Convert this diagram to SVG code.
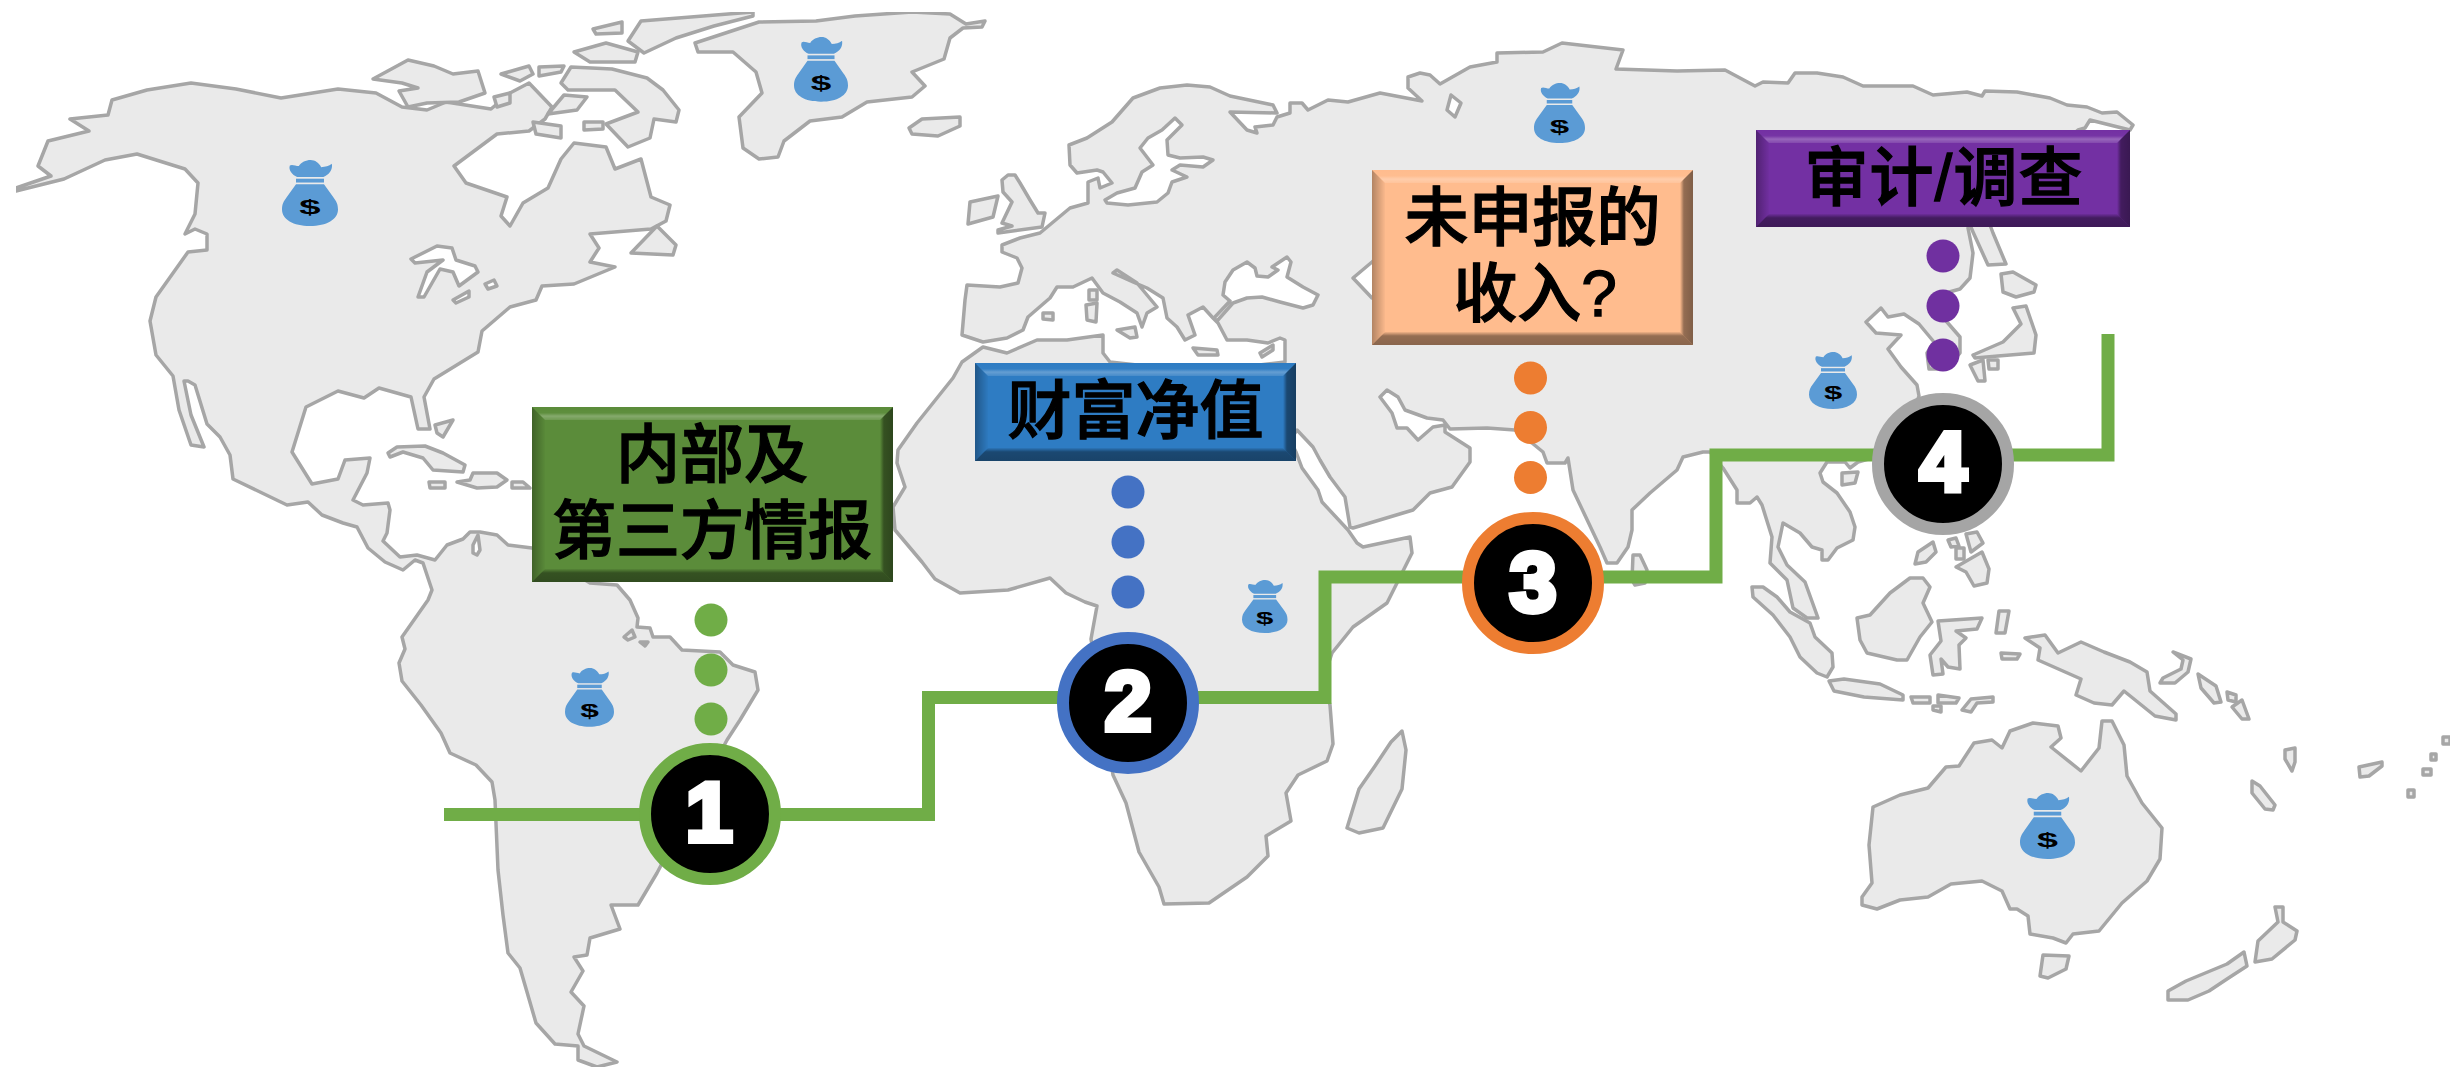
<svg xmlns="http://www.w3.org/2000/svg" width="2450" height="1068" viewBox="0 0 2450 1068">
<style>
.land{fill:#EAEAEA;stroke:#A6A6A6;stroke-width:3.5;stroke-linejoin:round}
.lake{fill:#FFFFFF;stroke:#A6A6A6;stroke-width:3.5;stroke-linejoin:round}
.route{fill:none;stroke:#70AD47;stroke-width:13;stroke-linejoin:miter}
.lbl{font-family:"Liberation Sans","Noto Sans CJK SC",sans-serif;font-size:64px;font-weight:500;fill:#000;stroke:#000;stroke-width:1.3;text-anchor:middle}
.num{font-family:"Liberation Sans",sans-serif;font-size:84px;font-weight:700;fill:#fff;stroke:#fff;stroke-width:6;stroke-linejoin:miter;text-anchor:middle}
.dollar{font-family:"Liberation Sans",sans-serif;font-size:38px;font-weight:700;fill:#000;text-anchor:middle}
.disc{fill:#000;stroke-width:12}
.bagc{fill:#5B9BD5}
.t{fill:url(#gT)}.l{fill:url(#gL)}.r{fill:url(#gR)}.b{fill:url(#gB)}
</style>
<defs>
<filter id="soft" x="0" y="0" width="1" height="1"><feGaussianBlur stdDeviation="0.6"/></filter>
<linearGradient id="gT" x1="0" y1="0" x2="0" y2="1"><stop offset="0" stop-color="#fff" stop-opacity="0"/><stop offset=".45" stop-color="#fff" stop-opacity=".02"/><stop offset=".7" stop-color="#fff" stop-opacity=".26"/><stop offset="1" stop-color="#fff" stop-opacity=".12"/></linearGradient>
<linearGradient id="gL" x1="0" y1="0" x2="1" y2="0"><stop offset="0" stop-color="#000" stop-opacity=".3"/><stop offset="1" stop-color="#000" stop-opacity=".02"/></linearGradient>
<linearGradient id="gR" x1="1" y1="0" x2="0" y2="0"><stop offset="0" stop-color="#000" stop-opacity=".5"/><stop offset=".7" stop-color="#000" stop-opacity=".42"/><stop offset="1" stop-color="#000" stop-opacity="0"/></linearGradient>
<linearGradient id="gB" x1="0" y1="1" x2="0" y2="0"><stop offset="0" stop-color="#000" stop-opacity=".46"/><stop offset=".7" stop-color="#000" stop-opacity=".42"/><stop offset="1" stop-color="#000" stop-opacity=".05"/></linearGradient>
<g id="bag">
<path class="bagc" d="M14 10C18 7 24 11 30 11C34 4 43 0 51 0C59 0 66 5 70 13C77 13 84 11 89 7C91 18 84 27 74 31L27 31C18 27 11 18 14 10Z"/>
<path class="bagc" d="M25 34H75V41H25Z"/>
<path class="bagc" d="M25 44H75L92 68C97 75 100 80 100 90C100 108 80 120 50 120C20 120 0 108 0 90C0 80 3 75 8 68Z"/>
</g>
</defs>
<rect width="2450" height="1068" fill="#fff"/>
<g id="map" filter="url(#soft)">
<polygon class="land" points="16,188 51,176 38,166 48,141 89,131 70,119 108,115 112,100 147,90 191,83 236,89 281,98 338,89 376,93 402,107 427,110 446,102 491,109 510,93 529,83 552,107 545,119 529,131 497,134 454,166 466,183 507,197 501,216 510,226 523,203 548,188 561,159 574,143 606,147 615,169 641,159 651,197 670,205 666,221 651,229 590,234 599,248 590,262 615,267 574,284 542,286 536,300 510,307 482,331 478,352 434,379 424,397 430,429 418,429 411,397 379,388 364,398 338,391 306,407 292,452 312,484 338,479 345,460 370,458 367,473 353,500 363,505 388,503 390,510 387,533 383,541 400,557 417,555 435,560 447,545 463,539 470,532 480,532 497,535 508,545 532,548 590,583 617,585 630,600 638,618 637,627 650,628 653,637 670,637 682,650 720,652 733,665 755,672 758,690 740,720 727,740 690,810 657,873 638,905 611,905 620,929 590,938 587,955 574,957 583,971 571,992 584,1006 578,1034 584,1046 617,1062 597,1067 578,1060 578,1046 555,1044 536,1023 527,992 520,968 508,953 503,915 498,870 495,800 492,782 476,765 450,753 441,733 421,705 402,681 399,663 405,649 402,637 428,600 432,590 423,563 415,560 403,570 385,562 368,548 357,527 343,523 322,515 308,502 287,505 233,479 230,455 220,437 207,424 195,385 188,381 184,381 191,415 204,447 191,445 179,410 173,376 156,355 150,321 156,297 188,252 207,250 207,234 195,229 185,234 195,214 198,183 185,169 137,154 105,160 64,179 16,191"/>
<polygon class="lake" points="411,259 437,246 452,248 456,260 475,266 478,272 459,286 453,272 440,269 424,297 418,297 427,272 443,260 415,263"/>
<polygon class="lake" points="453,300 469,291 469,297 456,303"/>
<polygon class="lake" points="485,284 494,280 497,286 488,289"/>
<polygon class="lake" points="473,545 478,535 480,550 477,555 473,553"/>
<polygon class="land" points="373,79 408,60 434,66 453,74 478,71 485,93 459,102 427,103 408,107 399,91 418,88 402,83"/>
<polygon class="land" points="501,74 529,66 533,74 520,81"/>
<polygon class="land" points="539,67 564,66 561,72 539,76"/>
<polygon class="land" points="494,97 510,93 510,103 497,107"/>
<polygon class="land" points="561,83 571,67 612,69 647,78 663,90 679,110 676,122 654,119 650,138 628,147 606,124 638,112 615,90 568,90"/>
<polygon class="land" points="584,122 603,122 603,129 584,130"/>
<polygon class="land" points="548,114 577,110 587,97 564,95"/>
<polygon class="land" points="533,122 561,126 561,138 536,134"/>
<polygon class="land" points="641,21 753,12 753,16 714,26 676,38 644,53 628,41"/>
<polygon class="land" points="593,29 622,22 622,33 596,34"/>
<polygon class="land" points="574,52 606,43 638,52 635,62 590,62"/>
<polygon class="land" points="657,226 676,245 673,255 631,253"/>
<polygon class="land" points="388,453 397,447 425,446 443,453 465,465 463,472 433,470 423,458 403,452 390,457"/>
<polygon class="land" points="457,482 470,480 473,473 497,473 507,480 497,487 477,488"/>
<polygon class="land" points="429,482 445,482 445,488 430,488"/>
<polygon class="land" points="512,482 523,482 530,488 512,488"/>
<polygon class="land" points="435,425 453,420 443,437 437,433"/>
<polygon class="land" points="624,637 632,630 635,637 628,640"/>
<polygon class="land" points="640,642 648,642 645,646"/>
<polygon class="land" points="695,43 759,22 816,21 855,16 912,12 950,14 966,24 985,21 982,27 963,28 950,38 944,59 912,72 925,86 912,97 867,102 842,117 810,121 784,141 778,157 759,159 743,148 739,117 762,93 756,72 733,52 698,52"/>
<polygon class="land" points="909,128 922,119 960,117 960,126 938,136 912,134"/>
<polygon class="land" points="1002,180 1008,175 1015,175 1020,183 1030,200 1038,213 1045,213 1042,227 998,233 998,230 1012,226 1002,223 1012,202 1003,192"/>
<polygon class="land" points="970,202 998,196 993,217 968,224"/>
<polygon class="land" points="1002,245 1020,238 1040,233 1070,208 1088,203 1088,182 1098,178 1100,188 1112,183 1103,172 1097,170 1077,173 1070,165 1069,145 1087,138 1112,122 1133,98 1160,88 1187,85 1210,87 1230,96 1273,105 1277,113 1230,112 1247,130 1257,133 1255,127 1273,125 1277,117 1290,113 1290,103 1302,103 1308,110 1328,100 1348,102 1380,93 1422,101 1408,88 1408,77 1420,73 1430,75 1440,84 1470,67 1497,62 1497,53 1543,52 1562,43 1623,50 1616,69 1677,71 1725,70 1755,86 1763,82 1788,83 1795,73 1817,73 1843,77 1863,86 1890,86 1913,86 1933,95 1967,92 1982,96 1985,91 2017,92 2050,98 2067,105 2087,107 2102,113 2117,112 2133,125 2130,130 2090,120 2085,128 2078,130 1968,228 1973,253 1970,278 1960,289 1942,294 1940,314 1960,337 1960,353 1947,369 1929,369 1927,353 1934,342 1919,324 1904,314 1888,317 1881,308 1866,322 1876,333 1901,335 1888,349 1901,367 1917,385 1919,396 1900,450 1858,462 1850,468 1845,462 1827,462 1820,473 1823,482 1837,493 1850,512 1855,527 1853,540 1837,548 1828,560 1822,560 1822,550 1812,547 1800,533 1783,523 1778,547 1787,565 1805,582 1818,618 1807,618 1793,608 1787,580 1770,563 1772,537 1762,505 1757,497 1750,503 1737,503 1737,490 1723,468 1710,452 1703,452 1683,457 1677,470 1650,493 1632,510 1632,530 1628,547 1617,563 1607,563 1600,547 1573,490 1568,458 1565,463 1547,463 1543,452 1532,443 1515,430 1487,428 1450,429 1443,420 1427,418 1405,410 1398,397 1387,390 1380,397 1392,413 1397,428 1407,428 1418,440 1433,427 1445,425 1445,432 1470,448 1470,462 1452,487 1430,493 1413,510 1353,528 1350,527 1345,497 1330,477 1320,460 1313,447 1297,430 1290,440 1296,452 1302,468 1318,490 1322,502 1348,530 1357,543 1363,547 1410,537 1412,553 1397,583 1387,603 1353,627 1332,653 1323,680 1330,705 1333,744 1327,761 1298,775 1286,793 1291,821 1266,836 1268,856 1247,877 1209,903 1164,904 1159,887 1139,852 1126,803 1113,775 1091,639 1097,606 1085,602 1066,593 1050,578 1008,590 960,593 935,579 922,562 895,530 893,507 905,487 897,463 898,450 917,423 933,403 953,378 962,362 983,347 1007,353 1037,340 1067,340 1103,335 1103,353 1110,362 1200,372 1285,362 1285,340 1280,338 1268,343 1247,340 1227,340 1218,323 1213,318 1203,307 1188,315 1195,335 1185,340 1177,327 1167,318 1163,298 1147,288 1133,282 1113,273 1117,270 1137,283 1157,307 1147,313 1142,327 1137,313 1120,302 1103,293 1092,278 1073,287 1057,287 1050,298 1028,317 1023,330 1007,338 983,342 962,335 965,300 967,285 1000,287 1018,283 1022,268 1017,258 1002,252"/>
<polygon class="lake" points="1105,200 1117,193 1135,188 1142,172 1153,165 1140,148 1148,138 1162,130 1175,118 1182,125 1167,140 1168,155 1180,158 1203,157 1213,160 1203,167 1180,165 1172,170 1187,177 1172,182 1168,193 1157,202 1128,205 1107,203"/>
<polygon class="lake" points="1214,318 1230,301 1223,295 1225,282 1233,270 1247,262 1255,268 1257,276 1268,277 1278,270 1272,267 1287,257 1291,262 1287,277 1303,287 1318,295 1313,305 1303,308 1280,302 1262,297 1247,298 1233,303 1217,321"/>
<polygon class="lake" points="1385,250 1372,262 1353,278 1372,298 1385,305"/>
<polygon class="land" points="1043,313 1053,313 1053,320 1043,319"/>
<polygon class="land" points="1089,290 1097,290 1097,300 1089,300"/>
<polygon class="land" points="1086,305 1097,303 1096,322 1087,320"/>
<polygon class="land" points="1117,330 1135,327 1137,337 1130,338"/>
<polygon class="land" points="1193,348 1217,350 1218,355 1198,355"/>
<polygon class="land" points="1260,353 1273,345 1273,350 1262,357"/>
<polygon class="lake" points="1451,95 1461,103 1455,117 1447,110"/>
<polygon class="land" points="1347,828 1359,789 1375,766 1391,742 1402,731 1406,750 1402,789 1383,828 1359,833"/>
<polygon class="land" points="1632,580 1633,555 1640,555 1647,570 1645,583 1635,585"/>
<polygon class="land" points="2001,274 2013,272 2036,285 2034,292 2016,297 2003,292"/>
<polygon class="land" points="2013,308 2026,306 2036,335 2034,353 1998,356 1975,358 1973,355 2003,342 2021,324"/>
<polygon class="land" points="1970,365 1983,360 1985,381 1978,381"/>
<polygon class="land" points="1988,360 1998,360 1998,369 1989,369"/>
<polygon class="land" points="1970,225 1990,225 1993,233 2006,264 1988,265 1973,232"/>
<polygon class="land" points="1842,473 1858,472 1855,483 1842,485"/>
<polygon class="land" points="1915,564 1918,552 1933,542 1936,552 1926,562"/>
<polygon class="land" points="1948,540 1956,538 1959,546 1951,547"/>
<polygon class="land" points="1956,548 1964,548 1964,559 1956,559"/>
<polygon class="land" points="1966,534 1977,532 1983,543 1971,552"/>
<polygon class="land" points="1956,567 1982,552 1989,569 1987,583 1974,586 1966,572"/>
<polygon class="land" points="1752,587 1763,587 1777,597 1790,612 1810,623 1815,637 1832,653 1833,667 1827,677 1817,673 1800,657 1790,637 1773,615 1753,597"/>
<polygon class="land" points="1857,618 1870,615 1890,593 1910,578 1923,578 1930,587 1923,603 1932,622 1920,637 1907,660 1897,660 1867,653 1860,640"/>
<polygon class="land" points="1829,681 1844,679 1880,684 1903,695 1903,700 1864,697 1834,691"/>
<polygon class="land" points="1911,697 1930,697 1930,703 1913,703"/>
<polygon class="land" points="1938,695 1959,698 1956,703 1938,703"/>
<polygon class="land" points="1933,706 1941,706 1941,712 1933,710"/>
<polygon class="land" points="1962,710 1971,699 1993,697 1993,702 1977,703 1971,712"/>
<polygon class="land" points="1938,621 1982,618 1977,629 1956,631 1966,638 1959,645 1960,669 1948,667 1941,659 1943,674 1933,675 1930,655 1941,641"/>
<polygon class="land" points="1999,611 2009,611 2005,633 1996,633"/>
<polygon class="land" points="2001,653 2020,654 2017,659 2002,659"/>
<polygon class="land" points="2025,638 2045,635 2058,653 2081,642 2104,652 2130,662 2147,672 2150,691 2176,714 2176,720 2155,716 2124,691 2112,705 2094,703 2076,695 2081,679 2038,660 2040,648"/>
<polygon class="land" points="2173,652 2191,659 2188,672 2175,683 2160,683 2163,678 2181,669 2183,660"/>
<polygon class="land" points="2198,674 2216,686 2221,702 2214,703 2201,688"/>
<polygon class="land" points="2227,692 2236,695 2236,702 2228,700"/>
<polygon class="land" points="2232,707 2242,700 2249,719 2242,719"/>
<polygon class="land" points="2285,750 2295,748 2295,762 2292,771 2285,759"/>
<polygon class="land" points="2252,781 2260,786 2275,805 2273,810 2265,809 2252,793"/>
<polygon class="land" points="2359,767 2382,762 2382,766 2369,776 2360,777"/>
<polygon class="land" points="2443,737 2450,737 2450,744 2443,744"/>
<polygon class="land" points="2431,754 2436,754 2436,760 2431,760"/>
<polygon class="land" points="2423,769 2431,769 2431,775 2423,775"/>
<polygon class="land" points="2408,790 2414,790 2414,797 2408,797"/>
<polygon class="land" points="1873,807 1900,795 1928,788 1946,767 1959,766 1974,743 1992,740 2002,748 2010,731 2033,723 2058,726 2061,738 2051,747 2081,771 2099,748 2102,721 2112,721 2124,745 2127,776 2142,803 2162,828 2160,859 2147,881 2122,903 2099,931 2073,934 2066,943 2053,938 2030,934 2028,916 2017,909 2010,909 2002,891 1982,881 1951,884 1928,897 1900,900 1877,909 1862,905 1862,897 1872,883 1869,845"/>
<polygon class="land" points="2043,955 2069,956 2066,969 2048,978 2040,976"/>
<polygon class="land" points="2168,991 2186,981 2227,964 2244,952 2247,966 2227,979 2209,991 2188,1000 2168,1000"/>
<polygon class="land" points="2275,907 2283,907 2283,922 2297,931 2295,940 2272,959 2255,962 2258,941 2278,922"/>
</g>
<g id="connectors">
<path class="route" d="M444 814.5H928.5V697.5H1325V577H1716V455H2108V334"/>
</g>
<g id="bag-north-america" transform="translate(282 160) scale(.56 .55)"><use href="#bag"/><text class="dollar" transform="translate(50 99) scale(1.8 1)">$</text></g>
<g id="bag-greenland" transform="translate(794 37) scale(.54 .54)"><use href="#bag"/><text class="dollar" transform="translate(50 99) scale(1.8 1)">$</text></g>
<g id="bag-russia" transform="translate(1534 83) scale(.51 .5)"><use href="#bag"/><text class="dollar" transform="translate(50 99) scale(1.8 1)">$</text></g>
<g id="bag-china" transform="translate(1809 352) scale(.48 .475)"><use href="#bag"/><text class="dollar" transform="translate(50 99) scale(1.8 1)">$</text></g>
<g id="bag-africa" transform="translate(1242 580) scale(.455 .442)"><use href="#bag"/><text class="dollar" transform="translate(50 99) scale(1.8 1)">$</text></g>
<g id="bag-south-america" transform="translate(565 668) scale(.49 .49)"><use href="#bag"/><text class="dollar" transform="translate(50 99) scale(1.8 1)">$</text></g>
<g id="bag-australia" transform="translate(2020 793) scale(.55 .55)"><use href="#bag"/><text class="dollar" transform="translate(50 99) scale(1.8 1)">$</text></g>

<g id="dots-1" fill="#70AD47"><circle cx="711" cy="620" r="16.5"/><circle cx="711" cy="670" r="16.5"/><circle cx="711" cy="719" r="16.5"/></g>
<g id="dots-2" fill="#4472C4"><circle cx="1128" cy="492" r="16.5"/><circle cx="1128" cy="542" r="16.5"/><circle cx="1128" cy="592" r="16.5"/></g>
<g id="dots-3" fill="#ED7D31"><circle cx="1530.5" cy="378" r="16.5"/><circle cx="1530.5" cy="427.5" r="16.5"/><circle cx="1530.5" cy="477.5" r="16.5"/></g>
<g id="dots-4" fill="#7030A0"><circle cx="1943" cy="256" r="16.5"/><circle cx="1943" cy="306" r="16.5"/><circle cx="1943" cy="355" r="16.5"/></g>

<g id="node-1"><circle class="disc" cx="710" cy="814" r="65" stroke="#70AD47"/><text class="num" x="709" y="841">1</text></g>
<g id="node-2"><circle class="disc" cx="1128" cy="703" r="65" stroke="#4472C4"/><text class="num" x="1128" y="730">2</text></g>
<g id="node-3"><circle class="disc" cx="1533" cy="583" r="65" stroke="#ED7D31"/><text class="num" x="1533" y="611">3</text></g>
<g id="node-4"><circle class="disc" cx="1943" cy="464" r="65" stroke="#A5A5A5"/><text class="num" x="1943" y="491">4</text></g>

<g id="box-1">
<rect x="532" y="407" width="361" height="175" fill="#5B8C3A"/>
<polygon class="t" points="532,407 893,407 880,420 545,420"/><polygon class="l" points="532,407 545,420 545,569 532,582"/><polygon class="r" points="893,407 880,420 880,569 893,582"/><polygon class="b" points="532,582 545,569 880,569 893,582"/>
<text class="lbl" x="712" y="477">内部及</text><text class="lbl" x="712" y="553">第三方情报</text>
</g>
<g id="box-2">
<rect x="975" y="363" width="321" height="98" fill="#2E7CC3"/>
<polygon class="t" points="975,363 1296,363 1283,376 988,376"/><polygon class="l" points="975,363 988,376 988,448 975,461"/><polygon class="r" points="1296,363 1283,376 1283,448 1296,461"/><polygon class="b" points="975,461 988,448 1283,448 1296,461"/>
<text class="lbl" x="1135.500" y="433">财富净值</text>
</g>
<g id="box-3">
<rect x="1372" y="170" width="321" height="175" fill="#FFBC8E"/>
<polygon class="t" points="1372,170 1693,170 1680,183 1385,183"/><polygon class="l" points="1372,170 1385,183 1385,332 1372,345"/><polygon class="r" points="1693,170 1680,183 1680,332 1693,345"/><polygon class="b" points="1372,345 1385,332 1680,332 1693,345"/>
<text class="lbl" x="1532.500" y="240">未申报的</text><text class="lbl" x="1535" y="316">收入?</text>
</g>
<g id="box-4">
<rect x="1756" y="130" width="374" height="97" fill="#7330A3"/>
<polygon class="t" points="1756,130 2130,130 2117,143 1769,143"/><polygon class="l" points="1756,130 1769,143 1769,214 1756,227"/><polygon class="r" points="2130,130 2117,143 2117,214 2130,227"/><polygon class="b" points="1756,227 1769,214 2117,214 2130,227"/>
<text class="lbl" x="1944" y="200" letter-spacing="1">审计/调查</text>
</g>
</svg>
